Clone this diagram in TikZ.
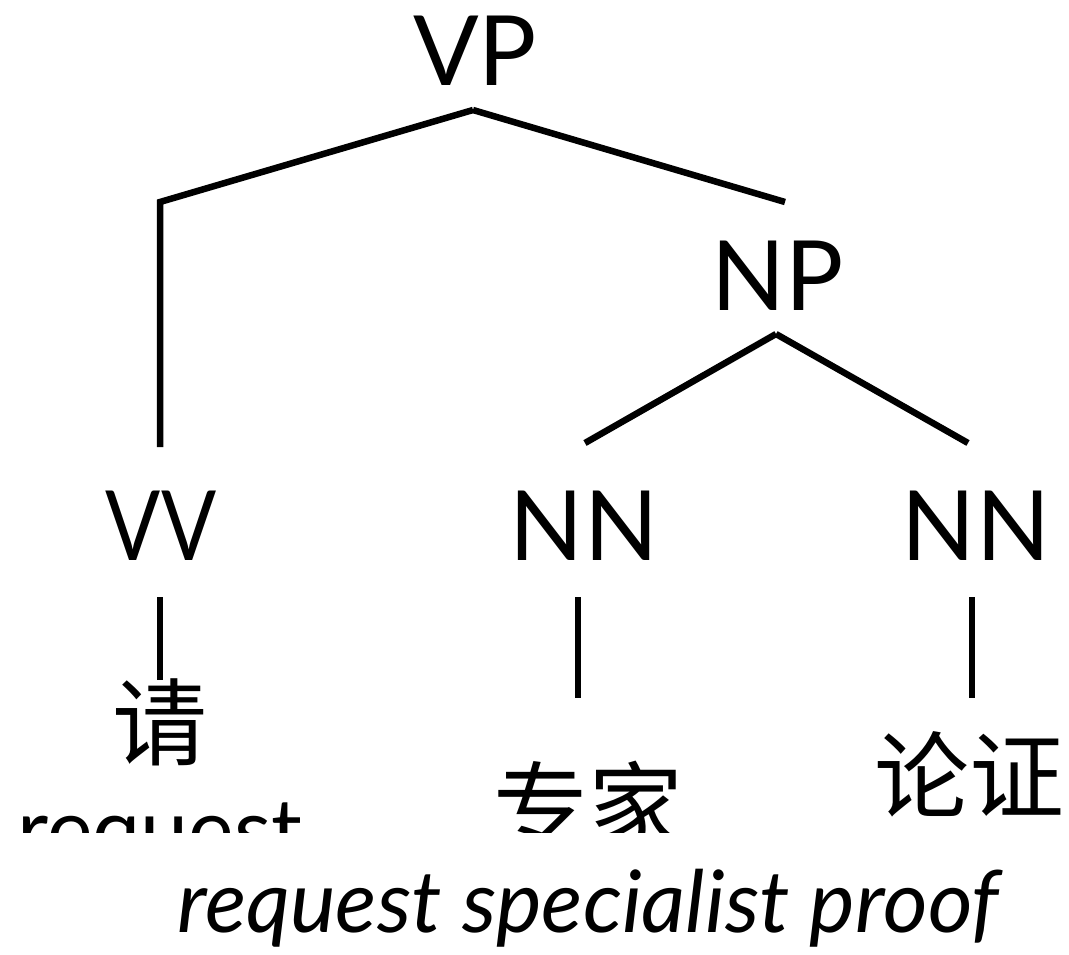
\documentclass[tikz,border=0pt]{standalone}
\usepackage{fontspec}
\setmainfont{Lato}
\newfontfamily\cjk{Noto Sans CJK SC}
\newfontfamily\latonarrow[FakeStretch=0.84]{Lato}
\tikzset{
  lab/.style={font=\fontsize{97}{97}\selectfont, inner sep=0pt, anchor=base},
  han/.style={font=\cjk\fontsize{95}{95}\selectfont, inner sep=0pt, anchor=base},
  gloss/.style={font=\fontsize{86}{86}\selectfont, inner sep=0pt, anchor=base},
  edge/.style={line width=6.5pt, line join=miter},
}
\begin{document}
\begin{tikzpicture}[x=1pt,y=-1pt]
\useasboundingbox (0,0) rectangle (1069,954);
\node[lab] (vp) at (475,85) {VP};
\node[lab] (np) at (778,310) {NP};
\node[lab, font=\latonarrow\fontsize{97}{97}\selectfont] (vv) at (161,560) {VV};
\node[lab] (nn1) at (584,560) {NN};
\node[lab] (nn2) at (976,560) {NN};
\node[han] (qing) at (160,758) {请};
\node[han] (lz) at (969,811) {论证};
\begin{scope}
\clip (0,0) rectangle (1069,832);
\node[han] (zj) at (588,841) {专家};
\node[gloss] (req) at (160,860) {request};
\end{scope}
\node[gloss, font=\fontsize{86}{86}\selectfont\itshape] (tr) at (588,932) {request specialist proof};
\coordinate (corner) at (160,202);
\draw[edge] ([xshift=-2pt,yshift=-25pt]vp.base) -- (corner) -- ([xshift=-1pt,yshift=113pt]vv.base);
\draw[edge] ([xshift=-2pt,yshift=-25pt]vp.base) -- ([xshift=7pt,yshift=108pt]np.base);
\draw[edge] ([xshift=-2pt,yshift=-24pt]np.base) -- ([xshift=1pt,yshift=117pt]nn1.base);
\draw[edge] ([xshift=-2pt,yshift=-24pt]np.base) -- ([xshift=-8pt,yshift=117pt]nn2.base);
\draw[edge] ([xshift=-1pt,yshift=-37pt]vv.base) -- ([yshift=78pt]qing.base);
\draw[edge] ([xshift=-6pt,yshift=-37pt]nn1.base) -- ([xshift=-10pt,yshift=143pt]zj.base);
\draw[edge] ([xshift=-4pt,yshift=-37pt]nn2.base) -- ([xshift=3pt,yshift=113pt]lz.base);
\end{tikzpicture}
\end{document}
